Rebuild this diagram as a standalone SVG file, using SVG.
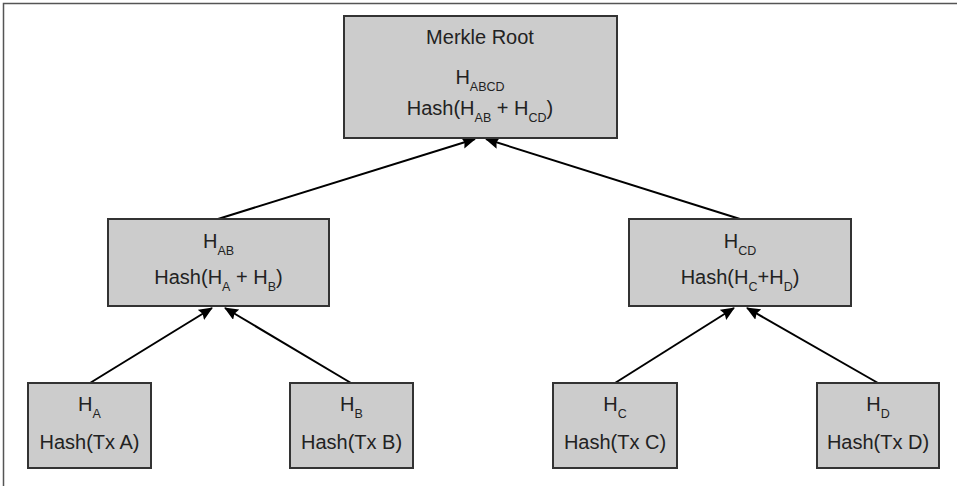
<svg xmlns="http://www.w3.org/2000/svg" width="957" height="486" viewBox="0 0 957 486">
<defs>
<marker id="ah" markerWidth="14" markerHeight="12" refX="13" refY="6" orient="auto" markerUnits="userSpaceOnUse">
<path d="M0,0 L14,6 L0,12 L2,6 Z" fill="#000"/>
</marker>
<style>
.box{fill:#cccccc;stroke:#333333;stroke-width:2}
.t{font-family:"Liberation Sans",Arial,sans-serif;font-size:20px;fill:#222222;text-anchor:middle}
.s{font-size:12.5px}
.e{stroke:#000;stroke-width:2;fill:none;marker-end:url(#ah)}
</style>
</defs>
<rect width="957" height="486" fill="#ffffff"/>
<path d="M3.5,486 V3.5 H957" fill="none" stroke="#555555" stroke-width="1.5"/>
<g id="connectors">
<line class="e" x1="218" y1="219" x2="475" y2="139"/>
<line class="e" x1="740" y1="219" x2="486" y2="139"/>
<line class="e" x1="90" y1="383" x2="212" y2="308"/>
<line class="e" x1="351" y1="383" x2="225" y2="308"/>
<line class="e" x1="615" y1="383" x2="734" y2="308"/>
<line class="e" x1="878" y1="383" x2="747" y2="308"/>
</g>
<g id="root">
<rect class="box" x="344" y="16" width="273" height="122"/>
<text class="t" x="480" y="44">Merkle Root</text>
<text class="t" x="480" y="84">H<tspan class="s" dy="7">ABCD</tspan></text>
<text class="t" x="480" y="115">Hash(H<tspan class="s" dy="7">AB</tspan><tspan dy="-7"> + H</tspan><tspan class="s" dy="7">CD</tspan><tspan dy="-7">)</tspan></text>
</g>
<g id="hab">
<rect class="box" x="108" y="219" width="221" height="87"/>
<text class="t" x="218.5" y="248">H<tspan class="s" dy="7">AB</tspan></text>
<text class="t" x="218.5" y="284">Hash(H<tspan class="s" dy="7">A</tspan><tspan dy="-7"> + H</tspan><tspan class="s" dy="7">B</tspan><tspan dy="-7">)</tspan></text>
</g>
<g id="hcd">
<rect class="box" x="629" y="219" width="222" height="87"/>
<text class="t" x="740" y="248">H<tspan class="s" dy="7">CD</tspan></text>
<text class="t" x="740" y="284">Hash(H<tspan class="s" dy="7">C</tspan><tspan dy="-7">+H</tspan><tspan class="s" dy="7">D</tspan><tspan dy="-7">)</tspan></text>
</g>
<g id="ha">
<rect class="box" x="28" y="383" width="123" height="85"/>
<text class="t" x="89.5" y="411">H<tspan class="s" dy="7">A</tspan></text>
<text class="t" x="89.5" y="449">Hash(Tx A)</text>
</g>
<g id="hb">
<rect class="box" x="290" y="383" width="123" height="85"/>
<text class="t" x="351.5" y="411">H<tspan class="s" dy="7">B</tspan></text>
<text class="t" x="351.5" y="449">Hash(Tx B)</text>
</g>
<g id="hc">
<rect class="box" x="553" y="383" width="124" height="85"/>
<text class="t" x="615" y="411">H<tspan class="s" dy="7">C</tspan></text>
<text class="t" x="615" y="449">Hash(Tx C)</text>
</g>
<g id="hd">
<rect class="box" x="817" y="383" width="122" height="85"/>
<text class="t" x="878" y="411">H<tspan class="s" dy="7">D</tspan></text>
<text class="t" x="878" y="449">Hash(Tx D)</text>
</g>
</svg>
